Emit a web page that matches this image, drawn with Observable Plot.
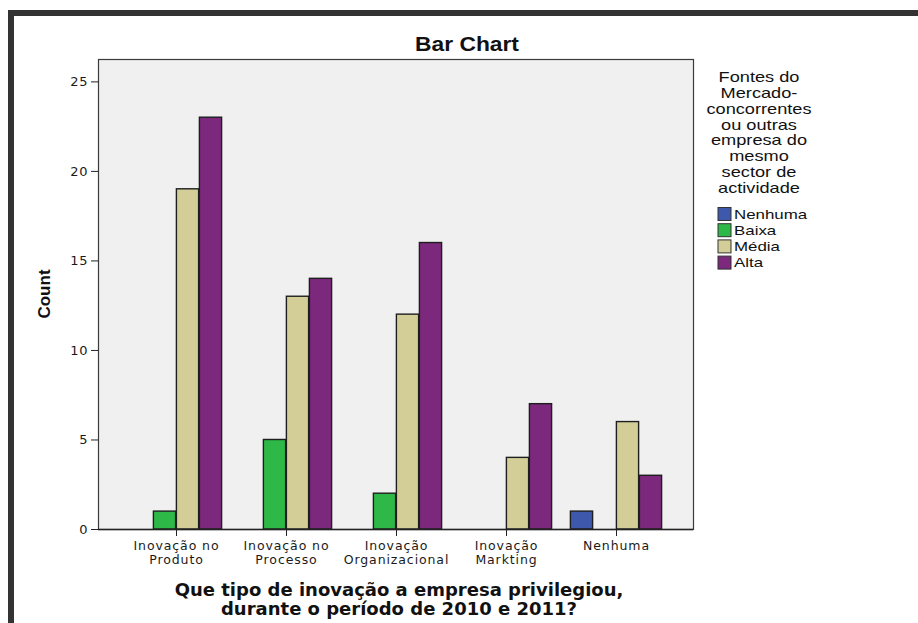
<!DOCTYPE html>
<html>
<head>
<meta charset="utf-8">
<script src="https://cdn.jsdelivr.net/npm/d3@7"></script>
<script src="https://cdn.jsdelivr.net/npm/@observablehq/plot@0.6"></script>
<style>
  html, body { margin: 0; padding: 0; background: #fff; }
  #chart { position: relative; width: 918px; height: 623px; overflow: hidden; }
  #chart > svg { position: absolute; left: 0; top: 0; }
  #panel { position: absolute; left: 8px; top: 10px; width: 1000px; height: 700px;
           border-top: 6px solid #333; border-left: 6px solid #333; box-sizing: border-box; }
  .plot text { letter-spacing: 0.9px; }
  .notes text { font-family: "Liberation Sans", Arial, sans-serif; fill: #111; }
  .notes text.xt { font-family: "DejaVu Sans", sans-serif; }
</style>
</head>
<body>
<div id="chart"><div id="panel"></div></div>
<script>
// Innovation type (x categories) by importance of market sources (series)
const categories = ["Inovação no Produto", "Inovação no Processo", "Inovação Organizacional", "Inovação Markting", "Nenhuma"];
const categoryLabels = ["Inovação no\nProduto", "Inovação no\nProcesso", "Inovação\nOrganizacional", "Inovação\nMarkting", "Nenhuma"];
const levels = ["Nenhuma", "Baixa", "Média", "Alta"];
const levelColors = ["#3E58AC", "#2EB848", "#D3CE97", "#7C287D"];
const countNenhuma = [0, 0, 0, 0, 1];
const countBaixa = [1, 5, 2, 0, 0];
const countMedia = [19, 13, 12, 4, 6];
const countAlta = [23, 14, 16, 7, 3];
const yTicks = [0, 5, 10, 15, 20, 25];
const chartTitle = "Bar Chart";
const yTitle = "Count";
const xTitle = ["Que tipo de inovação a empresa privilegiou,", "durante o período de 2010 e 2011?"];
const legendTitle = ["Fontes do", "Mercado-", "concorrentes", "ou outras", "empresa do", "mesmo", "sector de", "actividade"];

const series = [countNenhuma, countBaixa, countMedia, countAlta];
const rows = categories.flatMap((c, i) => levels.map((l, j) => ({category: c, level: l, count: series[j][i]})));

// plot geometry
const W = 918, H = 623;
const mL = 98, mR = 225, mT = 59, mB = 94;
const padOuter = 0.185;
const step = (W - mL - mR) / (categories.length + 2 * padOuter);
const barW = 23;

const bars = levels.map((l, j) => {
  const off = (j - (levels.length - 1) / 2) * barW;
  const side = (step - barW) / 2;
  return Plot.barY(rows.filter(d => d.level === l && d.count > 0), {
    x: "category", y: "count", fill: "level",
    stroke: "#1e1e1e", strokeWidth: 1.4,
    insetLeft: side + off, insetRight: side - off
  });
});

const plot = Plot.plot({
  width: W, height: H,
  marginLeft: mL, marginRight: mR, marginTop: mT, marginBottom: mB,
  x: {domain: categories, paddingInner: 0, paddingOuter: padOuter, label: null},
  y: {domain: [0, 26.25], label: null},
  color: {domain: levels, range: levelColors},
  style: {fontFamily: "DejaVu Sans, sans-serif", fontSize: "12.5px", color: "#1a1a1a", background: "transparent", overflow: "visible"},
  marks: [
    Plot.frame({fill: "#f0f0f0", stroke: "#3a3a3a", strokeWidth: 1.2}),
    ...bars,
    Plot.axisY({ticks: yTicks, tickSize: 7, tickPadding: 3, label: null, fontSize: 13, stroke: "#222"}),
    Plot.axisX({tickSize: 7, tickPadding: 4, label: null, fontSize: 12.5, lineHeight: 1.1,
                tickFormat: d => categoryLabels[categories.indexOf(d)], stroke: "#222"}),
    Plot.ruleY([0], {stroke: "#222", strokeWidth: 1.6})
  ]
});
plot.classList.add("plot");
document.getElementById("chart").appendChild(plot);

// titles and legend (text is drawn slightly widened, like the chart's own renderer)
const notes = d3.create("svg").attr("class", "notes").attr("width", W).attr("height", H);
const wide = (x, y, s) => `translate(${x},${y}) scale(${s},1)`;
notes.append("text").attr("transform", wide(467, 51, 1.17)).attr("text-anchor", "middle")
  .attr("font-weight", "bold").attr("font-size", 19.5).text(chartTitle);
notes.append("text").attr("transform", "translate(50,294) rotate(-90)").attr("text-anchor", "middle")
  .attr("font-weight", "bold").attr("font-size", 17).text(yTitle);
notes.selectAll("text.xt").data(xTitle).join("text").attr("class", "xt")
  .attr("x", 399).attr("y", (d, i) => 595.7 + i * 19.5).attr("text-anchor", "middle")
  .attr("font-weight", "bold").attr("font-size", 18).text(d => d);
notes.selectAll("text.lt").data(legendTitle).join("text").attr("class", "lt")
  .attr("transform", (d, i) => wide(759, 82.3 + i * 15.75, 1.3)).attr("text-anchor", "middle")
  .attr("font-size", 14).text(d => d);
const item = notes.selectAll("g.item").data(levels).join("g").attr("class", "item")
  .attr("transform", (d, i) => `translate(718,${214 + i * 16.2})`);
item.append("rect").attr("x", 0).attr("y", -6.5).attr("width", 13).attr("height", 13)
  .attr("fill", (d, i) => levelColors[i]).attr("stroke", "#333").attr("stroke-width", 1);
item.append("text").attr("transform", wide(16, 4.7, 1.3)).attr("font-size", 13)
  .text(d => d);
document.getElementById("chart").appendChild(notes.node());
</script>
</body>
</html>
